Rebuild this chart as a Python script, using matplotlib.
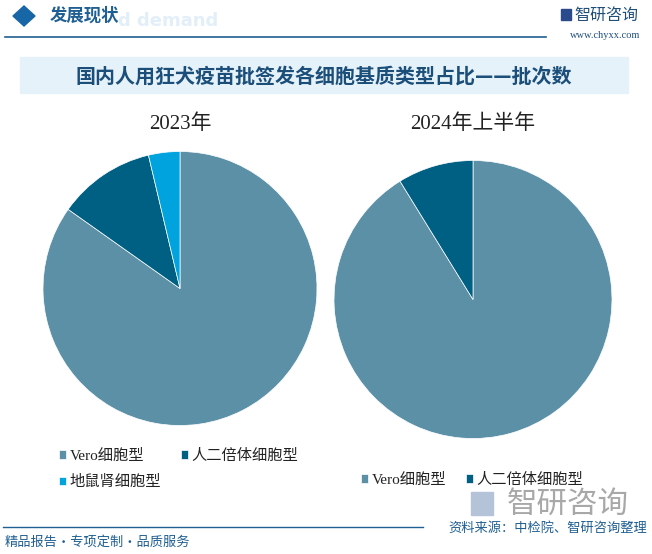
import matplotlib.pyplot as plt
from matplotlib.patches import Rectangle, Polygon
from matplotlib.lines import Line2D

plt.rcParams['font.family'] = ['Noto Sans CJK SC', 'DejaVu Sans']

# data (share of batches, %)
types_2023 = ["Vero细胞型", "人二倍体细胞型", "地鼠肾细胞型"]
share_2023 = [84.8, 11.5, 3.7]
types_2024 = ["Vero细胞型", "人二倍体细胞型"]
share_2024 = [91.2, 8.8]
colors = ["#5B90A7", "#006083", "#00A3DD"]

W, H = 652, 554
fig = plt.figure(figsize=(W / 100, H / 100), dpi=100)
fig.patch.set_facecolor("white")


def fx(x):
    return x / W


def fy(y):
    return 1 - y / H


serif_cjk = ['Liberation Serif', 'Noto Sans CJK SC']
navy = "#1F5F92"

# header
fig.add_artist(Polygon([(fx(13), fy(16)), (fx(24), fy(6)), (fx(35), fy(16)), (fx(24), fy(26))],
                       closed=True, transform=fig.transFigure, color="#1766A6"))
fig.text(fx(118), fy(21), "d demand", fontsize=13, color="#E3EFF8",
         fontweight="bold", va="center", family="DejaVu Sans")
fig.text(fx(50), fy(16), "发展现状", fontsize=12.5, color="#1F5F92", va="center", fontweight="bold")
fig.add_artist(Line2D([fx(5), fx(546)], [fy(37), fy(37)], transform=fig.transFigure,
                      color=navy, lw=1.2))
fig.add_artist(Rectangle((fx(561), fy(20)), 10 / W, 11 / H, transform=fig.transFigure,
                         color="#2B4A8B"))
fig.text(fx(574), fy(15), "智研咨询", fontsize=11.5, color="#1F4E79", va="center")
fig.text(fx(640), fy(35), "www.chyxx.com", fontsize=7.5, color="#1F4E79", va="center",
         ha="right", family="Liberation Serif")

# title band
fig.add_artist(Rectangle((fx(20), fy(93)), 608 / W, 36 / H, transform=fig.transFigure,
                         color="#E6F2FA", zorder=0))
fig.text(fx(324), fy(76), "国内人用狂犬疫苗批签发各细胞基质类型占比——批次数",
         fontsize=14.4, fontweight="bold", color="#1B4F7A", ha="center", va="center")


# pies
def draw_pie(cx, cy, r, values, title):
    ax = fig.add_axes([fx(cx - r), fy(cy + r), 2 * r / W, 2 * r / H])
    wedges, _ = ax.pie(values, colors=colors[:len(values)], startangle=90,
                       counterclock=False, radius=1,
                       wedgeprops=dict(edgecolor="white", linewidth=0.5))
    ax.set_xlim(-1, 1)
    ax.set_ylim(-1, 1)
    ax.set_aspect("equal")
    ax.axis("off")
    fig.text(fx(cx), fy(124), title, fontsize=15, ha="center", va="center",
             color="#222222", family=serif_cjk)
    return wedges


w1 = draw_pie(180, 288.5, 137, share_2023, "2023年")
w2 = draw_pie(473, 299.5, 139, share_2024, "2024年上半年")

leg_kw = dict(frameon=False, handlelength=0.45, handleheight=0.45, handletextpad=0.25,
              borderpad=0, borderaxespad=0,
              prop={'family': serif_cjk, 'size': 11}, labelcolor="#222222")
fig.legend([w1[0], w1[2], w1[1]], [types_2023[0], types_2023[2], types_2023[1]],
           ncol=2, loc="upper left", bbox_to_anchor=(fx(59), fy(449)),
           columnspacing=1.3, labelspacing=0.8, **leg_kw)
fig.legend(w2, types_2024, ncol=2, loc="upper left", bbox_to_anchor=(fx(361), fy(473)),
           columnspacing=1.3, **leg_kw)

# footer
fig.add_artist(Rectangle((fx(471), fy(515)), 22 / W, 23 / H, transform=fig.transFigure,
                         color="#B4C3D8"))
fig.text(fx(507), fy(504), "智研咨询", fontsize=22, color="#A8A8A8", ha="left", va="center")
fig.add_artist(Line2D([fx(3), fx(423)], [fy(527), fy(527)], transform=fig.transFigure,
                      color=navy, lw=1))
fig.text(fx(647), fy(528), "资料来源：中检院、智研咨询整理", fontsize=9.5, color=navy,
         ha="right", va="center")
fig.text(fx(5), fy(542), "精品报告·专项定制·品质服务", fontsize=9.5, color=navy,
         ha="left", va="center")

fig.savefig("out.png", dpi=100)
